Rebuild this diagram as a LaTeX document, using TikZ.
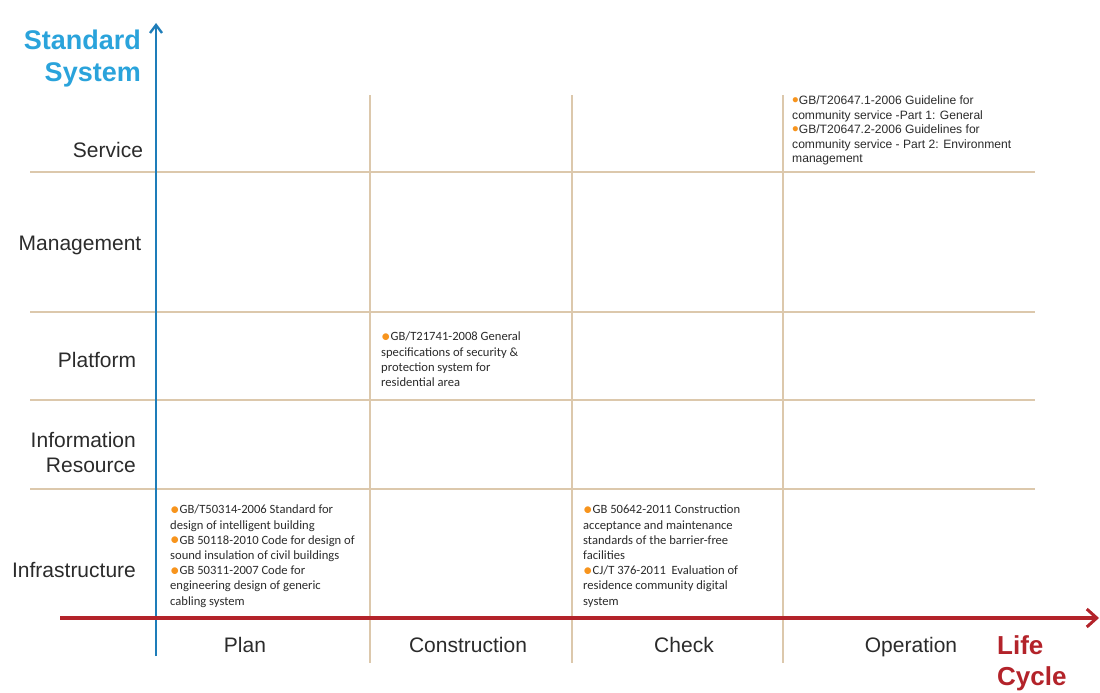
\documentclass[tikz,border=0pt]{standalone}
\usepackage{fontspec}
\setmainfont{Liberation Sans}
\newfontfamily\calib{Carlito}
\usetikzlibrary{arrows.meta}
\definecolor{gridcol}{HTML}{DCC8AC}
\definecolor{bluecol}{HTML}{1E7DB9}
\definecolor{titleblue}{HTML}{2AA3DB}
\definecolor{redcol}{HTML}{B3232A}
\definecolor{bulcol}{HTML}{F7941D}
\definecolor{txt}{HTML}{2B2B2B}
\newcommand{\bul}{\textcolor{bulcol}{\raisebox{-1.6pt}{\fontsize{19}{15}\selectfont\textbullet}}}
\begin{document}
\begin{tikzpicture}[x=1pt,y=-1pt,
  gridline/.style={draw=gridcol,line width=1.3pt},
  rowlab/.style={font=\fontsize{21}{25}\selectfont,text=txt,inner sep=0pt,align=center,anchor=base},
  collab/.style={font=\fontsize{21}{25}\selectfont,text=txt,inner sep=0pt,anchor=base},
  stdtxt/.style={font=\calib\fontsize{12.6}{15.2}\selectfont,text=txt,inner sep=0pt,align=left,anchor=north west},
  svctxt/.style={font=\fontsize{12.1}{14.5}\selectfont,text=txt,inner sep=0pt,align=left,anchor=north west},
  axtitle/.style={font=\bfseries\fontsize{27}{32}\selectfont,inner sep=0pt,align=right}]
\useasboundingbox (0,0) rectangle (1100,693);
% grid
\coordinate (h1a) at (30,172); \coordinate (h1b) at (1035,172);
\coordinate (h2a) at (30,312); \coordinate (h2b) at (1035,312);
\coordinate (h3a) at (30,400); \coordinate (h3b) at (1035,400);
\coordinate (h4a) at (30,489); \coordinate (h4b) at (1035,489);
\coordinate (v1a) at (370,95); \coordinate (v1b) at (370,663);
\coordinate (v2a) at (572,95); \coordinate (v2b) at (572,663);
\coordinate (v3a) at (783,95); \coordinate (v3b) at (783,663);
\draw[gridline] (h1a) -- (h1b);
\draw[gridline] (h2a) -- (h2b);
\draw[gridline] (h3a) -- (h3b);
\draw[gridline] (h4a) -- (h4b);
\draw[gridline] (v1a) -- (v1b);
\draw[gridline] (v2a) -- (v2b);
\draw[gridline] (v3a) -- (v3b);
% axes
\coordinate (ya) at (156,656); \coordinate (yb) at (156,23);
\coordinate (xa) at (60,618); \coordinate (xb) at (1099,618);
\draw[bluecol,line width=2.4pt,-{Straight Barb[length=8pt,width=12pt,line width=2.4pt]}] (ya) -- (yb);
\draw[redcol,line width=4pt,-{Straight Barb[length=10pt,width=18pt,line width=3pt]}] (xa) -- (xb);
% axis titles
\node[axtitle,text=titleblue,anchor=east] (ss) at (141,59) {Standard\\System};
\node[font=\bfseries\fontsize{26}{31}\selectfont,text=redcol,inner sep=0pt,align=left,anchor=west] (lc) at (997,663) {Life\\Cycle};
% row labels
\node[rowlab] (service) at (108,157) {Service};
\node[rowlab] (mgmt) at (80,250) {Management};
\node[rowlab] (platform) at (97,367) {Platform};
\node[rowlab,align=right,anchor=east] (info) at (136,452) {Information\\Resource};
\node[rowlab] (infra) at (74,577) {Infrastructure};
% column labels
\node[collab] (plan) at (245,652) {Plan};
\node[collab] (constr) at (468,652) {Construction};
\node[collab] (check) at (684,652) {Check};
\node[collab] (oper) at (911,652) {Operation};
% standards text
\node[svctxt] (svc) at (792,96) {\bul GB/T20647.1-2006 Guideline for\\community service -Part 1: General\\\bul GB/T20647.2-2006 Guidelines for\\community service - Part 2: Environment\\management};
\node[stdtxt] (plat) at (381,332) {\bul GB/T21741-2008 General\\specifications of security \&\\protection system for\\residential area};
\node[stdtxt] (planinf) at (170,505) {\bul GB/T50314-2006 Standard for\\design of intelligent building\\\bul GB 50118-2010 Code for design of\\sound insulation of civil buildings\\\bul GB 50311-2007 Code for\\engineering design of generic\\cabling system};
\node[stdtxt] (checkinf) at (583,505) {\bul GB 50642-2011 Construction\\acceptance and maintenance\\standards of the barrier-free\\facilities\\\bul CJ/T 376-2011\ \ Evaluation of\\residence community digital\\system};
\end{tikzpicture}
\end{document}
